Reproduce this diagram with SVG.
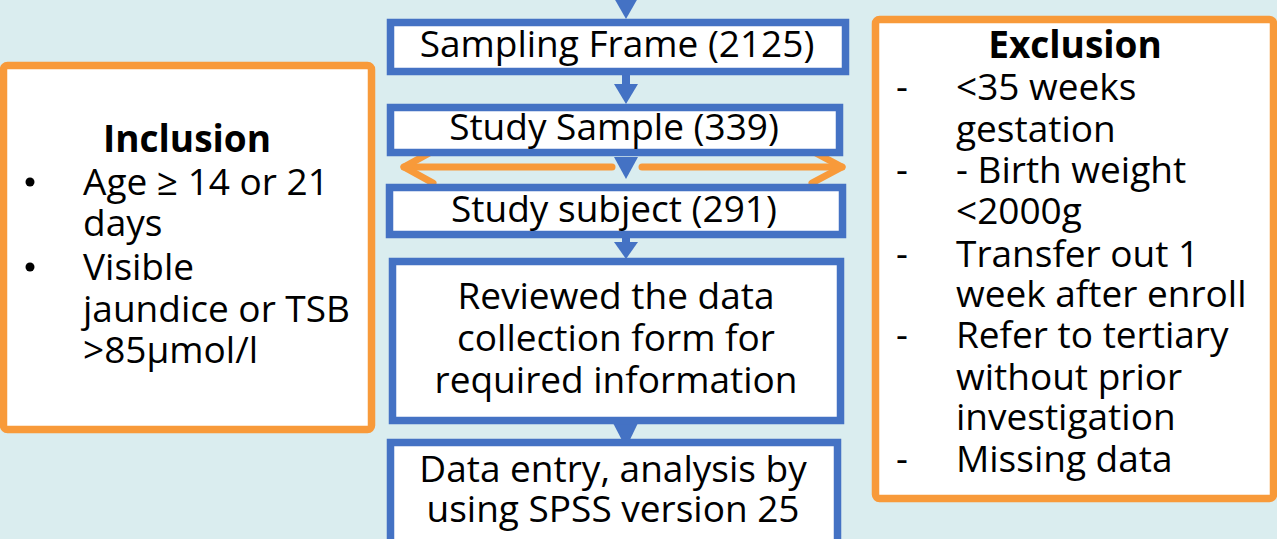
<svg xmlns="http://www.w3.org/2000/svg" width="1277" height="539" viewBox="0 0 1277 539">
  <style>
    .flow { fill: #ffffff; stroke: #4472C4; stroke-width: 7.5; }
    .crit { fill: #ffffff; stroke: #F89A3A; stroke-width: 7.5; }
    text { font-family: "Open Sans", Lato, "Liberation Sans", sans-serif; font-size: 37px; fill: #000000; }
    .mid { text-anchor: middle; }
    .bold { font-weight: bold; }
    .shaft { stroke: #4472C4; stroke-width: 8; }
    .head { fill: #4472C4; }
    .orange { stroke: #F89A3A; stroke-width: 7; fill: none; stroke-linecap: round; stroke-linejoin: round; }
  </style>

  <rect width="1277" height="539" fill="#DAEDEF"/>

  <!-- connectors -->
  <g id="connectors">
    <polygon class="head" points="614,-2 638,-2 626,19"/>
    <line class="shaft" x1="626" y1="74" x2="626" y2="86"/>
    <polygon class="head" points="614,84 638,84 626,104"/>
    <polygon class="head" points="614,157 638,157 626,179"/>
    <line class="shaft" x1="626" y1="237" x2="626" y2="245"/>
    <polygon class="head" points="614,242 638,242 626,259"/>
    <polygon class="head" points="613,423 638,423 626,448"/>
    <!-- two-way split towards the criteria boxes -->
    <line class="orange" x1="404" y1="167" x2="612" y2="167"/>
    <line class="orange" x1="642" y1="167" x2="842" y2="167"/>
    <polyline class="orange" points="433,151 404,167 433,183"/>
    <polyline class="orange" points="812,151 842,167 812,183"/>
  </g>

  <g id="sampling-frame">
    <rect class="flow" x="390.5" y="22.5" width="455" height="49"/>
    <text class="mid" x="617" y="57">Sampling Frame (2125)</text>
  </g>

  <g id="study-sample">
    <rect class="flow" x="390.5" y="107.5" width="449" height="45"/>
    <text class="mid" x="614" y="140">Study Sample (339)</text>
  </g>

  <g id="study-subject">
    <rect class="flow" x="389.5" y="187.5" width="453" height="47"/>
    <text class="mid" x="614" y="222">Study subject (291)</text>
  </g>

  <g id="review">
    <rect class="flow" x="392.5" y="261.5" width="448" height="159"/>
    <text class="mid" x="616" y="309">Reviewed the data</text>
    <text class="mid" x="616" y="351">collection form for</text>
    <text class="mid" x="616" y="393">required information</text>
  </g>

  <g id="analysis">
    <rect class="flow" x="390.5" y="442.5" width="447" height="110"/>
    <text class="mid" x="613" y="482">Data entry, analysis by</text>
    <text class="mid" x="613" y="522">using SPSS version 25</text>
  </g>

  <g id="inclusion">
    <rect class="crit" x="3.5" y="65.5" width="368" height="364" rx="4"/>
    <text class="mid bold" x="187" y="152">Inclusion</text>
    <circle cx="30" cy="182" r="4.5" fill="#000"/>
    <circle cx="30" cy="267" r="4.5" fill="#000"/>
    <text x="83" y="195">Age ≥ 14 or 21</text>
    <text x="83" y="236">days</text>
    <text x="83" y="280">Visible</text>
    <text x="83" y="322">jaundice or TSB</text>
    <text x="83" y="363">&gt;85µmol/l</text>
  </g>

  <g id="exclusion">
    <rect class="crit" x="875.5" y="19.5" width="398" height="479" rx="4"/>
    <text class="mid bold" x="1075" y="58">Exclusion</text>
    <text x="896" y="100">-</text>
    <text x="956" y="100">&lt;35 weeks</text>
    <text x="956" y="142">gestation</text>
    <text x="896" y="183">-</text>
    <text x="956" y="183">- Birth weight</text>
    <text x="956" y="224">&lt;2000g</text>
    <text x="896" y="267">-</text>
    <text x="956" y="267">Transfer out 1</text>
    <text x="956" y="307">week after enroll</text>
    <text x="896" y="348">-</text>
    <text x="956" y="348">Refer to tertiary</text>
    <text x="956" y="390">without prior</text>
    <text x="956" y="430">investigation</text>
    <text x="896" y="472">-</text>
    <text x="956" y="472">Missing data</text>
  </g>
</svg>
